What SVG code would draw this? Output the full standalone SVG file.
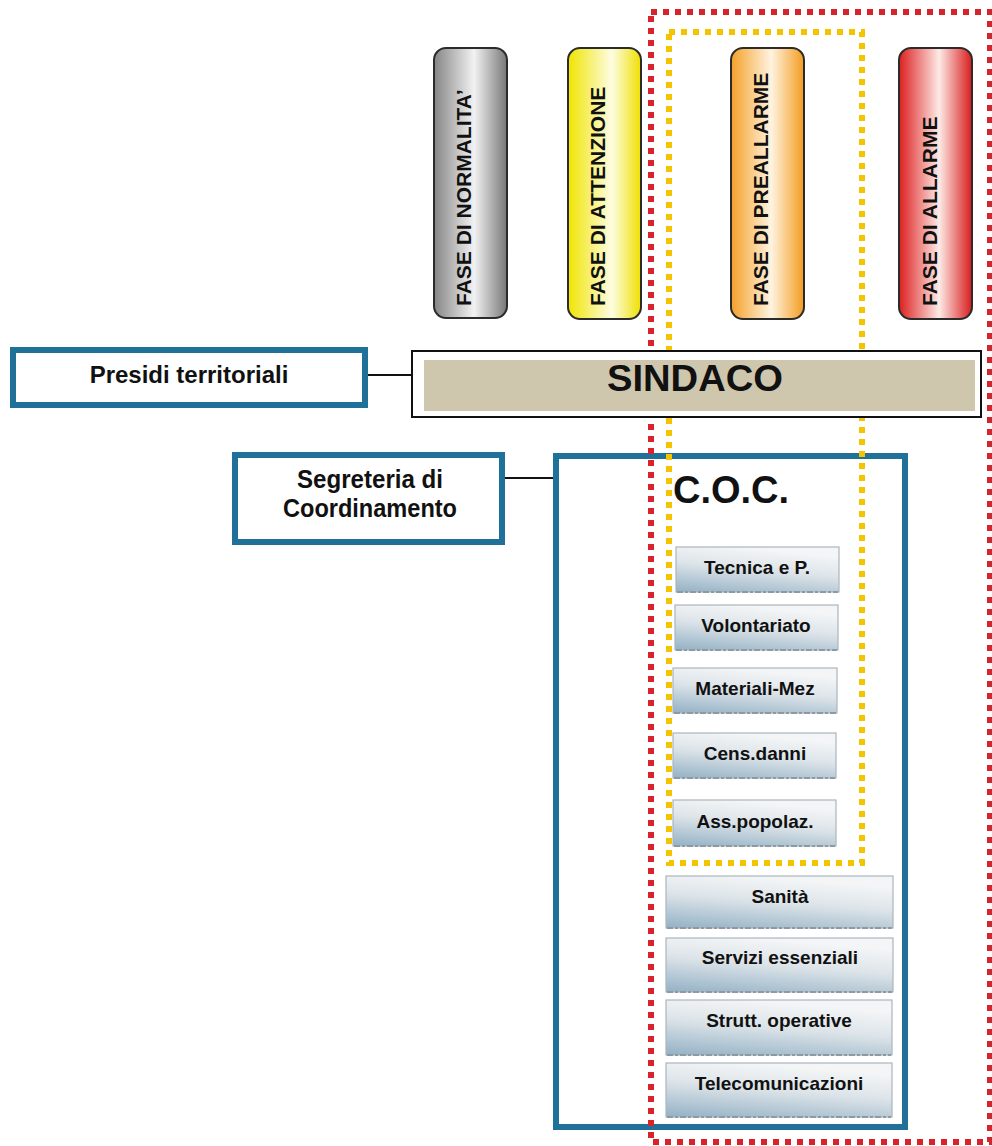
<svg xmlns="http://www.w3.org/2000/svg" width="992" height="1146" viewBox="0 0 992 1146">
  <defs>
    <linearGradient id="gGray" x1="0" y1="0" x2="1" y2="0">
      <stop offset="0" stop-color="#858585"/>
      <stop offset="0.55" stop-color="#f2f2f2"/>
      <stop offset="1" stop-color="#777777"/>
    </linearGradient>
    <linearGradient id="gYellow" x1="0" y1="0" x2="1" y2="0">
      <stop offset="0" stop-color="#f0e400"/>
      <stop offset="0.6" stop-color="#fdfde2"/>
      <stop offset="1" stop-color="#efe000"/>
    </linearGradient>
    <linearGradient id="gOrange" x1="0" y1="0" x2="1" y2="0">
      <stop offset="0" stop-color="#f4a128"/>
      <stop offset="0.55" stop-color="#fff3e0"/>
      <stop offset="1" stop-color="#f39c20"/>
    </linearGradient>
    <linearGradient id="gRed" x1="0" y1="0" x2="1" y2="0">
      <stop offset="0" stop-color="#dc1f1f"/>
      <stop offset="0.55" stop-color="#fdeae6"/>
      <stop offset="1" stop-color="#d81c1c"/>
    </linearGradient>
    <linearGradient id="gBox" x1="0.35" y1="0" x2="0" y2="1">
      <stop offset="0" stop-color="#f3f5f6"/>
      <stop offset="0.4" stop-color="#dde4e9"/>
      <stop offset="1" stop-color="#93b1c5"/>
    </linearGradient>
    <style>
      .txt { font-family: "Liberation Sans", Arial, sans-serif; font-weight: bold; fill: #111; }
      .blue { fill: #ffffff; stroke: #1f7199; stroke-width: 6; }
      .pill { stroke: #2b2b2b; stroke-width: 2; }
      .sub { fill: url(#gBox); stroke: #aab6be; stroke-width: 1.2; }
      .subshadow { fill: none; stroke: #8e9aa2; stroke-width: 2; stroke-dasharray: 6 2 3 2; }
      .phase { font-size: 21px; }
      .subt { font-size: 19px; text-anchor: middle; }
      .conn { stroke: #111; stroke-width: 2; fill: none; }
    </style>
  </defs>

  <rect x="0" y="0" width="992" height="1146" fill="#ffffff"/>

  <g id="coc">
    <rect class="blue" x="556" y="456" width="349" height="671"/>
    <text class="txt" x="673" y="503" font-size="38">C.O.C.</text>
  </g>

  <g id="frame-allarme">
    <rect x="651" y="12" width="339" height="1130" fill="none" stroke="#d8232a" stroke-width="6" stroke-dasharray="6 6"/>
  </g>
  <g id="frame-preallarme">
    <rect x="669" y="32" width="193" height="831" fill="none" stroke="#f5c400" stroke-width="6" stroke-dasharray="6 6"/>
  </g>

  <g id="connectors">
    <line class="conn" x1="368" y1="375" x2="411" y2="375"/>
    <line class="conn" x1="505" y1="478" x2="553" y2="478"/>
  </g>

  <g id="presidi">
    <rect class="blue" x="13" y="350" width="352" height="55"/>
    <text class="txt" x="189" y="383" font-size="24" text-anchor="middle">Presidi territoriali</text>
  </g>

  <g id="segreteria">
    <rect class="blue" x="235" y="455" width="267" height="87"/>
    <text class="txt" x="370" y="488" font-size="25" text-anchor="middle" textLength="146" lengthAdjust="spacingAndGlyphs">Segreteria di</text>
    <text class="txt" x="370" y="517" font-size="25" text-anchor="middle" textLength="174" lengthAdjust="spacingAndGlyphs">Coordinamento</text>
  </g>

  <g id="sindaco">
    <rect x="412" y="351" width="569" height="66" fill="#ffffff" stroke="#111" stroke-width="2"/>
    <rect x="424" y="360" width="551" height="51" fill="#cfc6ae"/>
    <text class="txt" x="695" y="391" font-size="36" text-anchor="middle" textLength="176" lengthAdjust="spacingAndGlyphs">SINDACO</text>
  </g>

  <g id="fase-normalita">
    <rect class="pill" x="434" y="48" width="73" height="270" rx="12" fill="url(#gGray)"/>
    <text class="txt phase" transform="translate(471,306) rotate(-90)">FASE DI NORMALITA’</text>
  </g>
  <g id="fase-attenzione">
    <rect class="pill" x="568" y="48" width="73" height="271" rx="12" fill="url(#gYellow)"/>
    <text class="txt phase" transform="translate(605,306) rotate(-90)">FASE DI ATTENZIONE</text>
  </g>
  <g id="fase-preallarme">
    <rect class="pill" x="731" y="48" width="73" height="271" rx="12" fill="url(#gOrange)"/>
    <text class="txt phase" transform="translate(768,306) rotate(-90)">FASE DI PREALLARME</text>
  </g>
  <g id="fase-allarme">
    <rect class="pill" x="899" y="48" width="73" height="271" rx="12" fill="url(#gRed)"/>
    <text class="txt phase" transform="translate(937,306) rotate(-90)">FASE DI ALLARME</text>
  </g>

  <g id="tecnica">
    <rect class="sub" x="676" y="547" width="163" height="45"/>
    <line class="subshadow" x1="677" y1="592" x2="838" y2="592"/>
    <text class="txt subt" x="757" y="574">Tecnica e P.</text>
  </g>
  <g id="volontariato">
    <rect class="sub" x="675" y="605" width="163" height="45"/>
    <line class="subshadow" x1="676" y1="650" x2="837" y2="650"/>
    <text class="txt subt" x="756" y="632">Volontariato</text>
  </g>
  <g id="materiali">
    <rect class="sub" x="673" y="668" width="164" height="45"/>
    <line class="subshadow" x1="674" y1="713" x2="836" y2="713"/>
    <text class="txt subt" x="755" y="695">Materiali-Mez</text>
  </g>
  <g id="cens">
    <rect class="sub" x="673" y="733" width="163" height="45"/>
    <line class="subshadow" x1="674" y1="778" x2="835" y2="778"/>
    <text class="txt subt" x="755" y="760">Cens.danni</text>
  </g>
  <g id="ass">
    <rect class="sub" x="673" y="800" width="163" height="46"/>
    <line class="subshadow" x1="674" y1="846" x2="835" y2="846"/>
    <text class="txt subt" x="755" y="828">Ass.popolaz.</text>
  </g>

  <g id="sanita">
    <rect class="sub" x="666" y="876" width="227" height="52"/>
    <line class="subshadow" x1="667" y1="928" x2="892" y2="928"/>
    <text class="txt subt" x="780" y="903">Sanità</text>
  </g>
  <g id="servizi">
    <rect class="sub" x="666" y="938" width="227" height="54"/>
    <line class="subshadow" x1="667" y1="992" x2="892" y2="992"/>
    <text class="txt subt" x="780" y="964">Servizi essenziali</text>
  </g>
  <g id="strutt">
    <rect class="sub" x="666" y="1000" width="226" height="55"/>
    <line class="subshadow" x1="667" y1="1055" x2="891" y2="1055"/>
    <text class="txt subt" x="779" y="1027">Strutt. operative</text>
  </g>
  <g id="telecom">
    <rect class="sub" x="666" y="1063" width="226" height="54"/>
    <line class="subshadow" x1="667" y1="1117" x2="891" y2="1117"/>
    <text class="txt subt" x="779" y="1090">Telecomunicazioni</text>
  </g>
</svg>
